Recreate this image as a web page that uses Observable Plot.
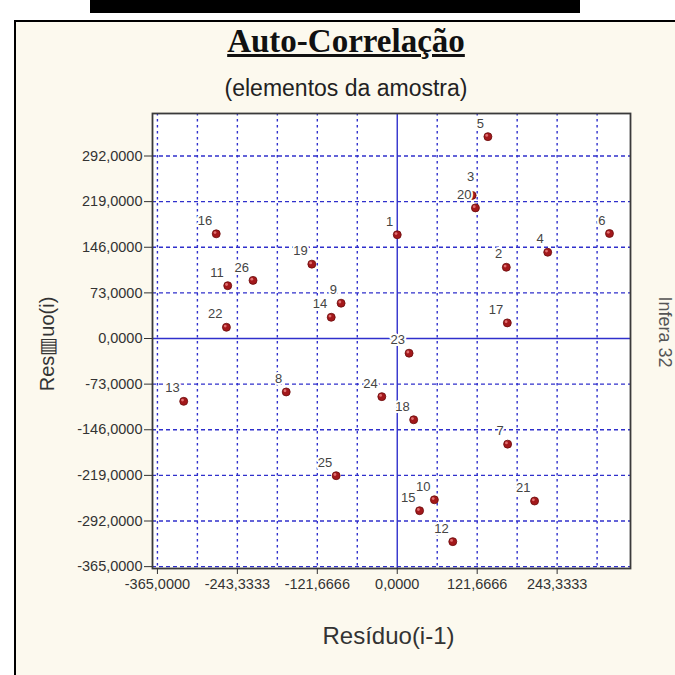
<!DOCTYPE html>
<html><head><meta charset="utf-8">
<script src="https://cdn.jsdelivr.net/npm/d3@7"></script>
<script src="https://cdn.jsdelivr.net/npm/@observablehq/plot@0.6"></script>
<style>
html,body{margin:0;padding:0;background:#fff;}
body{width:675px;height:675px;overflow:hidden;position:relative;font-family:Arial,"Liberation Sans",sans-serif;}
#bar{position:absolute;left:90px;top:0;width:490px;height:13px;background:#000;}
#panel{position:absolute;left:14px;top:20px;width:700px;height:700px;border-left:2px solid #000;border-top:2px solid #000;background:#fcf9ee;}
#title{position:absolute;left:96px;width:500px;top:23px;text-align:center;font:bold 33px "Liberation Serif","Times New Roman",serif;text-decoration:underline;color:#111;}
#subtitle{position:absolute;left:96px;width:500px;top:75px;text-align:center;font:23px "Liberation Sans",Arial,sans-serif;color:#222;}
#chart{position:absolute;left:0;top:100px;}
</style></head>
<body>
<div id="bar"></div>
<div id="panel"></div>
<div id="title">Auto-Correlação</div>
<div id="subtitle">(elementos da amostra)</div>
<div id="chart"></div>
<script>
// Observation numbers
const obs = [1,2,3,4,5,6,7,8,9,10,11,12,13,14,15,16,17,18,19,20,21,22,23,24,25,26];
// Residual of previous observation (x) and of current observation (y)
const residuoAnterior = [0,166,114,229,138,323,168,-169,-85.5,56.5,-258,84.5,-325,-100.5,34,-275.5,167.5,25,-130,119,209,-260,18,-23.5,-93,-219.5];
const residuo = [166,114,229,138,323,168,-169,-85.5,56.5,-258,84.5,-325,-100.5,34,-275.5,167.5,25,-130,119,209,-260,18,-23.5,-93,-219.5,93];
// Axis ticks and grid
const xTicks = [-365, -243.3333, -121.6666, 0, 121.6666, 243.3333];
const xGrid = [-365, -304.1667, -243.3333, -182.5, -121.6666, -60.8333, 60.8333, 121.6666, 182.5, 243.3333, 304.1667];
const yTicks = [292, 219, 146, 73, 0, -73, -146, -219, -292, -365];
const yGrid = [292, 219, 146, 73, -73, -146, -219, -292, -365];
const xLabel = "Resíduo(i-1)";
const yLabel = "Res\u25A5uo(i)";
const sideText = "Infera 32";

const data = obs.map((id, i) => ({id, prev: residuoAnterior[i], cur: residuo[i]}));
const fmt = d => d.toFixed(4).replace(".", ",");
const blue = "#3030cc";
const labelStyle = {x: "prev", y: "cur", text: d => String(d.id), textAnchor: "end", fontSize: 13, fill: "#444", stroke: "white", strokeWidth: 4};

const chart = Plot.plot({
  width: 675, height: 575,
  marginLeft: 152, marginRight: 45, marginTop: 13, marginBottom: 107,
  style: {background: "transparent", fontFamily: "Arial, 'Liberation Sans', sans-serif", fontSize: "13px", color: "#333"},
  x: {domain: [-372.5, 355]},
  y: {domain: [-368, 360]},
  marks: [
    Plot.frame({fill: "white"}),
    Plot.ruleX(xGrid, {stroke: blue, strokeDasharray: "2.5,3.5", strokeWidth: 1.4}),
    Plot.ruleY(yGrid, {stroke: blue, strokeDasharray: "4,3", strokeWidth: 1.3}),
    Plot.ruleX([0], {stroke: blue, strokeWidth: 1.4}),
    Plot.ruleY([0], {stroke: blue, strokeWidth: 1.4}),
    Plot.frame({stroke: "#3a3a3a", strokeWidth: 1.8}),
    Plot.axisX({ticks: xTicks, tickFormat: fmt, tickSize: 6, tickPadding: 4, label: null, fontSize: 14.5, color: "#333"}),
    Plot.axisY({ticks: yTicks, tickFormat: fmt, tickSize: 8, tickPadding: 2, label: null, fontSize: 14.5, color: "#333"}),
    Plot.dot(data, {x: "prev", y: "cur", r: 4, fill: "#a3181b", stroke: "#6a0c0c", strokeWidth: 0.8}),
    Plot.dot(data, {x: "prev", y: "cur", r: 1.4, dx: -1.2, dy: -1.2, fill: "#e07070"}),
    Plot.text(data.filter(d => d.id !== 3), {...labelStyle, dx: -4, dy: -13}),
    Plot.text(data.filter(d => d.id === 3), {...labelStyle, dx: 2, dy: -19}),
    Plot.text([xLabel], {frameAnchor: "bottom", textAnchor: "middle", lineAnchor: "middle", dx: -3, dy: 68, fontSize: 24, fill: "#333"}),
    Plot.text([yLabel], {frameAnchor: "left", textAnchor: "middle", lineAnchor: "middle", dx: -105, dy: 3, rotate: -90, fontSize: 20, fill: "#333"}),
    Plot.text([sideText], {frameAnchor: "right", textAnchor: "middle", lineAnchor: "middle", dx: 34, dy: -9, rotate: 90, fontSize: 18, fill: "#555"})
  ]
});
document.getElementById("chart").appendChild(chart);
</script>
</body></html>
